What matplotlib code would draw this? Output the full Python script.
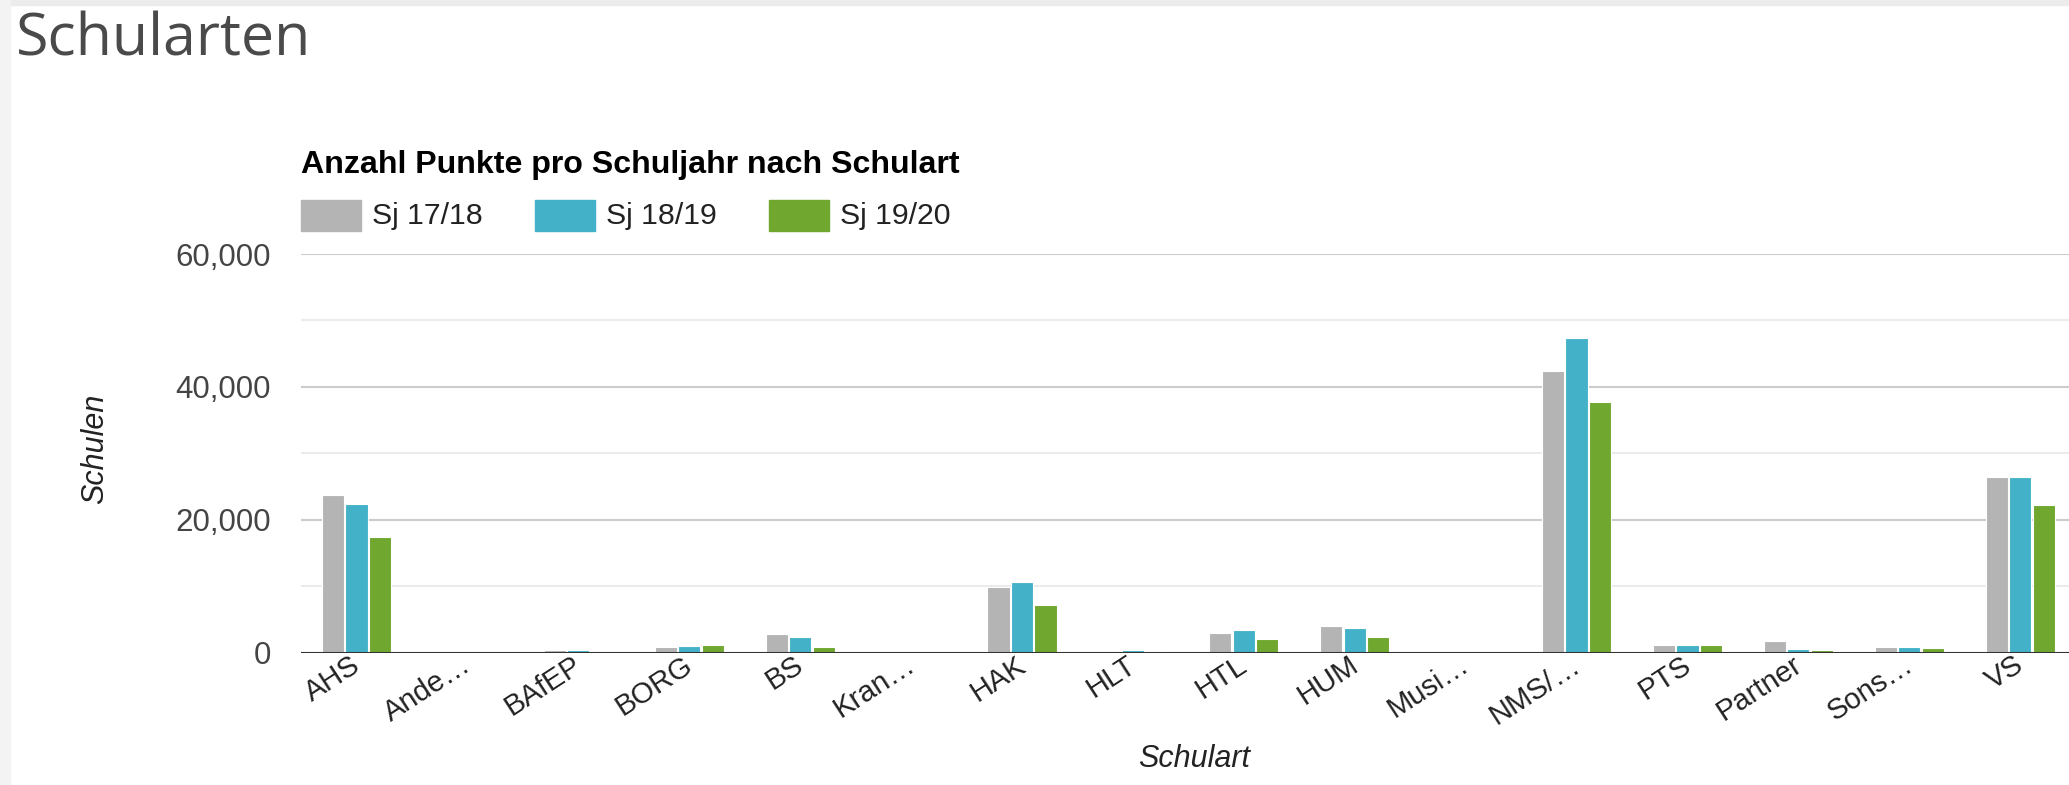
import numpy as np
import matplotlib.pyplot as plt
from matplotlib.patches import Rectangle
from matplotlib.transforms import ScaledTranslation

# data
schularten = ["AHS", "Ande…", "BAfEP", "BORG", "BS", "Kran…", "HAK", "HLT", "HTL",
              "HUM", "Musi…", "NMS/…", "PTS", "Partner", "Sons…", "VS"]
sj_1718 = [23700, 60, 450, 800, 2750, 0, 9900, 80, 3000, 4000, 0, 42400, 1100, 1700, 800, 26400]
sj_1819 = [22400, 80, 400, 1000, 2400, 0, 10600, 400, 3400, 3700, 0, 47300, 1100, 600, 800, 26400]
sj_1920 = [17400, 0, 50, 1100, 800, 0, 7250, 200, 2050, 2400, 0, 37800, 1100, 400, 650, 22200]
serien = ["Sj 17/18", "Sj 18/19", "Sj 19/20"]
farben = ["#b4b4b4", "#43b2c8", "#6fa72f"]

W, H = 2069, 785
fig = plt.figure(figsize=(W / 100, H / 100), dpi=100)
fig.patch.set_facecolor("white")

# page frame (light gray strips top / left)
fig.patches.append(Rectangle((0, 1 - 5 / H), 1, 5 / H, transform=fig.transFigure,
                             color="#ececec", zorder=0))
fig.patches.append(Rectangle((0, 0), 10 / W, 1, transform=fig.transFigure,
                             color="#f3f3f3", zorder=0))

fig.text(16 / W, 1 - 56 / H, "Schularten", fontsize=42.5, family="Open Sans",
         color="#4a4a4a", va="baseline")
fig.text(301 / W, 1 - 165 / H, "Anzahl Punkte pro Schuljahr nach Schulart",
         fontsize=23.1, family="Liberation Sans", weight="bold", color="#000000", va="center")

# legend, drawn by hand to sit like the original
for i, (name, col) in enumerate(zip(serien, farben)):
    x0 = 301 + 234 * i
    fig.patches.append(Rectangle((x0 / W, 1 - 231 / H), 60 / W, 31 / H,
                                 transform=fig.transFigure, color=col))
    fig.text((x0 + 71) / W, 1 - 216 / H, name, fontsize=21.8, family="Liberation Sans",
             color="#222222", va="center")

ax = fig.add_axes([301 / W, (H - 652.7) / H, 1 - 301 / W, (652.7 - 254) / H])
x = np.arange(len(schularten))
breite = 0.2
schritt = 0.212
for i, (werte, col) in enumerate(zip([sj_1718, sj_1819, sj_1920], farben)):
    ax.bar(x + (i - 1) * schritt, werte, width=breite, color=col,
           edgecolor="white", linewidth=0.8, zorder=3)

ax.set_xlim(-0.5, 15.44)
ax.set_ylim(0, 60000)
ax.set_yticks([0, 20000, 40000, 60000])
ax.set_yticks([10000, 30000, 50000], minor=True)
ax.set_yticklabels([f"{v:,}" for v in [0, 20000, 40000, 60000]])
ax.grid(axis="y", which="major", color="#cccccc", linewidth=1.5, zorder=0)
ax.grid(axis="y", which="minor", color="#ebebeb", linewidth=1.5, zorder=0)
ax.axhline(0, color="#333333", linewidth=2.2, zorder=4)
for s in ax.spines.values():
    s.set_visible(False)
ax.tick_params(axis="y", which="both", length=0, pad=21.5, labelsize=22.5, labelcolor="#444444")
ax.tick_params(axis="x", length=0, pad=7, labelsize=21, labelcolor="#222222")
ax.set_xticks(x)
ax.set_xticklabels(schularten, rotation=33, ha="right", va="center", rotation_mode="anchor",
                   family="Liberation Sans")
verschub = ScaledTranslation(1 / 100, 0, fig.dpi_scale_trans)
for lab in ax.get_xticklabels():
    lab.set_transform(lab.get_transform() + verschub)
for lab in ax.get_yticklabels():
    lab.set_family("Liberation Sans")

ax.set_xlabel("Schulart", fontsize=22, style="italic", family="Liberation Sans", color="#222222")
ax.xaxis.set_label_coords((1194 - 301) / (W - 301), -(759 - 652.7) / (652.7 - 254))
ax.set_ylabel("Schulen", fontsize=22, style="italic", family="Liberation Sans", color="#222222")
ax.yaxis.set_label_coords((95 - 301) / (W - 301), (652.7 - 449) / (652.7 - 254))
ax.xaxis.label.set_va("center")
ax.yaxis.label.set_va("center")

fig.savefig("out.png", dpi=100)
